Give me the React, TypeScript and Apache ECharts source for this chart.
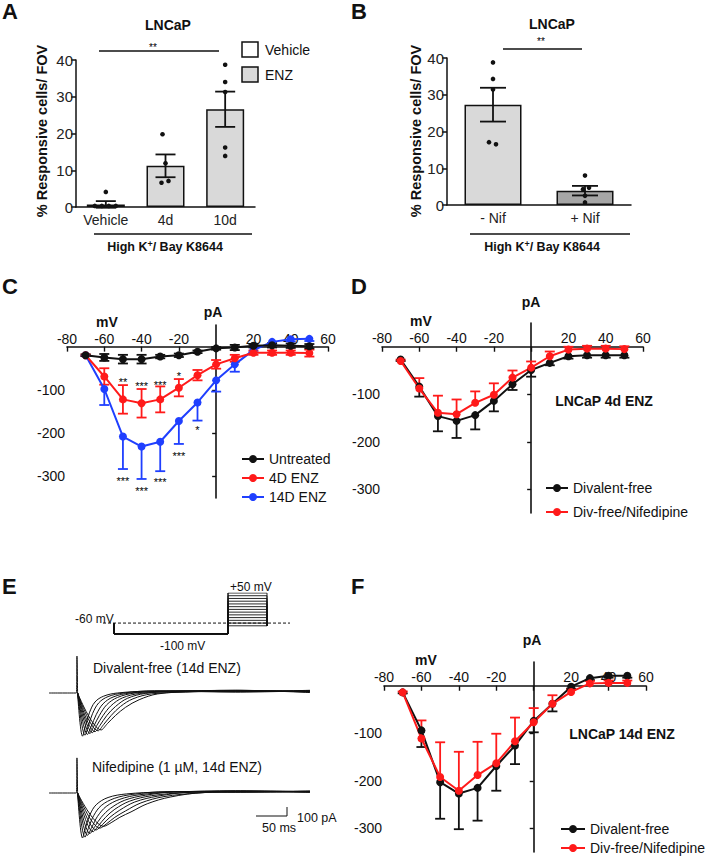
import React, { useEffect, useRef } from "react";
import * as echarts from "echarts";

const FONT = '"Liberation Sans", Arial, Helvetica, sans-serif';
const INK = "#111";
const RED = "#ff1a1a";
const BLUE = "#1f3fff";

// ---------- Panel A ----------
const catsA = ["Vehicle", "4d", "10d"];
const meanA = [0.7, 11.2, 26.6];
const semA = [0.9, 3.1, 4.8];
const dotsA = [
  [4.1, 0.3, 0.3, 0.3, 0.3],
  [19.8, 11.9, 6.6, 7.1],
  [38.7, 34.0, 31.3, 16.2, 13.9],
];
// ---------- Panel B ----------
const catsB = ["- Nif", "+ Nif"];
const meanB = [27.3, 3.9];
const semB = [4.6, 1.3];
const dotsB = [
  [38.8, 34.3, 31.4, 17.1, 16.5],
  [8.0, 4.3, 4.7, 2.5, 0.7],
];
const yTicksBar = [0, 10, 20, 30, 40];

// ---------- IV curves (mV / pA) ----------
const voltages = [-70, -60, -50, -40, -30, -20, -10, 0, 10, 20, 30, 40, 50];
const ivTickLabels = [-80, -60, -40, -20, 20, 40, 60];
const pATickLabels = [-300, -200, -100];

const untreatedC = [-20, -25, -29, -29, -23, -20, -12, -4, -2, 2, 3, 2, 1];
const untreatedErrC = [2, 8, 10, 10, 4, 4, 3, 3, 6, 4, 5, 5, 5];
const enz4C = [-20, -69, -122, -131, -122, -95, -66, -41, -27, -14, -14, -14, -15];
const enz4ErrC = [2, 19, 33, 33, 30, 20, 12, 10, 8, 5, 5, 5, 8];
const enz14C = [-20, -98, -208, -231, -220, -172, -129, -78, -41, -8, 11, 17, 18];
const enz14ErrC = [2, 37, 75, 75, 68, 53, 42, 26, 17, 5, 5, 5, 5];

const starXC = [-50, -40, -30, -20, -50, -40, -30, -20, -10];
const starYC = [-82, -90, -88, -68, -310, -333, -314, -252, -192];
const starTextC = ["**", "***", "***", "*", "***", "***", "***", "***", "*"];

const divD = [-27, -84, -146, -156, -144, -114, -79, -49, -34, -20, -18, -18, -18];
const divErrD = [3, 21, 32, 36, 30, 22, 12, 14, 5, 5, 5, 5, 5];
const nifD = [-30, -88, -139, -142, -118, -101, -65, -44, -20, -6, -4, -4, -5];
const nifErrD = [3, 22, 36, 31, 24, 24, 15, 13, 10, 6, 6, 6, 6];

const divF = [-14, -94, -203, -227, -215, -169, -126, -74, -38, -2, 16, 21, 21];
const divErrF = [2, 35, 77, 75, 69, 52, 39, 24, 16, 4, 4, 4, 4];
const nifF = [-14, -111, -192, -221, -188, -163, -117, -77, -38, -13, 5, 6, 6];
const nifErrF = [2, 38, 73, 82, 70, 62, 50, 30, 18, 5, 5, 5, 5];

// ---------- Panel E: current traces (ms, pA) ----------
const spikeTop = [[0, 0], [44, 0], [45, 410], [46, -20]];
const spikeBottom = [[0, 0], [44, 0], [45, 390], [46, -20]];
const divalentTraces = [
  [[46, 0], [54, -480], [59, -360], [65, -220], [74, -100], [88, -35], [110, 0], [160, 20], [300, 25], [420, 15]],
  [[46, 0], [58, -470], [63, -370], [70, -230], [80, -110], [95, -40], [120, 0], [170, 25], [300, 15], [420, 30]],
  [[46, 0], [62, -460], [68, -370], [76, -240], [87, -120], [103, -45], [130, 0], [180, 15], [300, 30], [420, 10]],
  [[46, 0], [66, -450], [72, -370], [81, -250], [93, -130], [110, -50], [138, 0], [190, 20], [300, 10], [420, 25]],
  [[46, 0], [70, -440], [77, -360], [87, -250], [100, -140], [118, -55], [146, -5], [200, 15], [300, 30], [420, 5]],
  [[46, 0], [74, -430], [82, -360], [93, -250], [107, -150], [126, -60], [155, -5], [210, 20], [300, 15], [420, 20]],
  [[46, 0], [79, -420], [88, -350], [100, -250], [115, -150], [135, -65], [165, -10], [220, 10], [300, 25], [420, 15]],
  [[46, 0], [84, -410], [94, -340], [107, -250], [123, -160], [145, -75], [175, -10], [230, 15], [300, 20], [420, 25]],
];
const nifedipineTraces = [
  [[46, 0], [54, -500], [59, -380], [66, -240], [76, -130], [95, -50], [125, -10], [180, 10], [300, 20], [420, 10]],
  [[46, 0], [58, -490], [64, -380], [72, -250], [84, -140], [105, -60], [135, -15], [190, 15], [300, 10], [420, 20]],
  [[46, 0], [62, -470], [69, -380], [78, -260], [92, -150], [114, -70], [145, -20], [200, 10], [300, 25], [420, 10]],
  [[46, 0], [66, -450], [74, -370], [84, -270], [99, -170], [122, -80], [155, -25], [210, 15], [300, 10], [420, 20]],
  [[46, 0], [71, -430], [80, -360], [91, -270], [106, -180], [130, -90], [165, -30], [220, 5], [300, 20], [420, 15]],
  [[46, 0], [76, -410], [86, -350], [98, -270], [114, -190], [138, -100], [175, -35], [230, 10], [300, 15], [420, 10]],
  [[46, 0], [82, -390], [93, -340], [106, -270], [123, -200], [148, -110], [185, -40], [240, 0], [300, 20], [420, 20]],
  [[46, 0], [88, -370], [100, -330], [114, -270], [132, -210], [158, -120], [195, -45], [250, 5], [300, 10], [420, 15]],
];
// Voltage protocol (ms, mV)
const protocolTimes = [0, 22, 250, 328, 374];
const holdMV = -60;
const prepulseMV = -100;
const stepMV = [-70, -60, -50, -40, -30, -20, -10, 0, 10, 20, 30, 40, 50];

// ---------- style-only constants ----------
const jitterA = [[0, -11, -4, 3, 10], [-3, 0, -4, 3], [0, 0, 0, 0, 0]];
const jitterB = [[0, 0, 0, -4, 3], [0, -2, 4, 0, 0]];

function errRender(capHalf: number, color: string, width: number) {
  return (params: any, api: any) => {
    const x = api.value(0), y = api.value(1), up = api.value(2), dn = api.value(3);
    const c = api.coord([x, y]);
    const t = api.coord([x, y + up]);
    const b = api.coord([x, y - dn]);
    const style = { stroke: color, lineWidth: width };
    const children: any[] = [
      { type: "line", shape: { x1: c[0], y1: t[1], x2: c[0], y2: b[1] }, style },
    ];
    if (up > 0) children.push({ type: "line", shape: { x1: c[0] - capHalf, y1: t[1], x2: c[0] + capHalf, y2: t[1] }, style });
    if (dn > 0) children.push({ type: "line", shape: { x1: c[0] - capHalf, y1: b[1], x2: c[0] + capHalf, y2: b[1] }, style });
    return { type: "group", children };
  };
}

function dotRender() {
  return (params: any, api: any) => {
    const c = api.coord([api.value(0), api.value(1)]);
    const dx = api.value(2);
    return { type: "circle", shape: { cx: c[0] + dx, cy: c[1], r: 2.3 }, style: { fill: INK } };
  };
}

function flattenDots(dots: number[][], jit: number[][]) {
  const out: number[][] = [];
  dots.forEach((arr, i) => arr.forEach((v, j) => out.push([i, v, jit[i][j] || 0])));
  return out;
}

const ivXAxis = (gi: number, labelMargin: number) => ({
  type: "value", gridIndex: gi, min: -80, max: 60, interval: 20, position: "top",
  axisLine: { onZero: true, lineStyle: { color: INK, width: 1.6 } },
  axisTick: { show: true, inside: true, length: 5, lineStyle: { color: INK, width: 1.4 } },
  axisLabel: { fontSize: 14, color: INK, margin: labelMargin, customValues: ivTickLabels, formatter: (v: number) => (v === 0 ? "" : String(v)) },
  splitLine: { show: false },
});
const ivYAxis = (gi: number) => ({
  type: "value", gridIndex: gi, min: -350, max: 50,
  axisLine: { show: true, onZero: true, lineStyle: { color: INK, width: 1.6 } },
  axisTick: { show: true, length: 4, customValues: pATickLabels, lineStyle: { color: INK, width: 1.4 } },
  axisLabel: { fontSize: 14, color: INK, margin: 2, customValues: pATickLabels },
  splitLine: { show: false },
});

function ivLine(name: string, gi: number, vals: number[], color: string, z = 3) {
  return {
    name, type: "line", xAxisIndex: gi, yAxisIndex: gi, z, clip: false,
    data: voltages.map((v, i) => [v, vals[i]]),
    symbol: "circle", symbolSize: 8,
    itemStyle: { color },
    lineStyle: { color, width: 2 },
  };
}
function ivErr(gi: number, vals: number[], up: number[] | null, dn: number[] | null, color: string, z = 2) {
  return {
    type: "custom", xAxisIndex: gi, yAxisIndex: gi, z,
    encode: { x: 0, y: 1 },
    renderItem: errRender(5, color, 1.8),
    data: voltages.map((v, i) => [v, vals[i], up ? up[i] : 0, dn ? dn[i] : 0]),
  };
}

function traceSeries(gi: number, data: number[][]) {
  return {
    type: "line", xAxisIndex: gi, yAxisIndex: gi, data, symbol: "none", smooth: 0.35,
    lineStyle: { color: INK, width: 1 }, silent: true,
  };
}

const txt = (x: number, y: number, text: string, o: any = {}, el: any = {}) => ({
  type: "text", x, y, ...el,
  style: { text, fontFamily: FONT, fontSize: 14, fill: INK, align: "left", verticalAlign: "middle", ...o },
});
const ln = (x1: number, y1: number, x2: number, y2: number, w = 1.5, extra: any = {}) => ({
  type: "line", shape: { x1, y1, x2, y2 }, style: { stroke: INK, lineWidth: w, ...extra },
});

const legendBase = {
  orient: "vertical", itemHeight: 10, selectedMode: false, padding: 0,
  textStyle: { fontSize: 14, color: INK, fontFamily: FONT },
};

export default function App() {
  const ref = useRef<HTMLDivElement>(null);
  useEffect(() => {
    if (!ref.current) return;
    const chart = echarts.init(ref.current, null, { renderer: "svg" });

    const barAxisY = (gi: number) => ({
      type: "value", gridIndex: gi, min: 0, max: 40, interval: 10,
      axisLine: { show: true, lineStyle: { color: INK, width: 1.5 } },
      axisTick: { show: true, length: 5, lineStyle: { color: INK, width: 1.5 } },
      axisLabel: { fontSize: 15, color: "#222", margin: 3, customValues: yTicksBar },
      splitLine: { show: false },
    });
    const barAxisX = (gi: number, data: string[]) => ({
      type: "category", gridIndex: gi, data,
      axisLine: { lineStyle: { color: INK, width: 1.5 } },
      axisTick: { alignWithLabel: true, length: 5, lineStyle: { color: INK, width: 1.5 } },
      axisLabel: { fontSize: 14, color: "#222", margin: 6 },
    });

    const traces: any[] = [];
    traces.push(traceSeries(5, spikeTop));
    traces.push(traceSeries(6, spikeBottom));
    divalentTraces.forEach((t) => traces.push(traceSeries(5, t)));
    nifedipineTraces.forEach((t) => traces.push(traceSeries(6, t)));
    const [t0, t1, t2, t3, t4] = protocolTimes;
    traces.push({
      type: "line", xAxisIndex: 7, yAxisIndex: 7, symbol: "none", silent: true, z: 4,
      data: [[t0, holdMV], [t4, holdMV]],
      lineStyle: { color: INK, width: 1, type: [3, 2] },
    });
    stepMV.forEach((v) =>
      traces.push({
        type: "line", xAxisIndex: 7, yAxisIndex: 7, symbol: "none", silent: true,
        data: [[t1, holdMV], [t1, prepulseMV], [t2, prepulseMV], [t2, v], [t3, v], [t3, stepMV[0]]],
        lineStyle: { color: INK, width: 0.9 },
      })
    );
    traces.push({
      type: "line", xAxisIndex: 7, yAxisIndex: 7, symbol: "none", silent: true,
      data: [[t2, stepMV[stepMV.length - 1]], [t2, prepulseMV]],
      lineStyle: { color: INK, width: 1 },
    });

    const stars = {
      type: "custom", xAxisIndex: 2, yAxisIndex: 2, z: 5,
      encode: { x: 0, y: 1 },
      data: starXC.map((x, i) => [x, starYC[i]]),
      renderItem: (params: any, api: any) => {
        const c = api.coord([api.value(0), api.value(1)]);
        return {
          type: "text", x: c[0], y: c[1],
          style: { text: starTextC[params.dataIndex], fontFamily: FONT, fontSize: 11, fill: "#000", align: "center", verticalAlign: "middle" },
        };
      },
    };

    const hiK = (cx: number) => ({
      type: "text", x: cx, y: 247,
      style: {
        text: "{n|High K}{s|+}{n|/ Bay K8644}",
        align: "center", verticalAlign: "middle", fontFamily: FONT,
        rich: {
          n: { fontFamily: FONT, fontSize: 12.5, fontWeight: "bold", fill: INK, lineHeight: 16 },
          s: { fontFamily: FONT, fontSize: 9, fontWeight: "bold", fill: INK, lineHeight: 16, verticalAlign: "top", padding: [0, 0, 7, 0] },
        },
      },
    });

    const yTitle = (x: number) =>
      txt(x, 131, "% Responsive cells/ FOV", { fontSize: 14.5, fontWeight: "bold", align: "center" }, { rotation: Math.PI / 2 });

    const option: any = {
      animation: false,
      backgroundColor: "#fff",
      textStyle: { fontFamily: FONT },
      grid: [
        { left: 76, top: 60, width: 179, height: 147 },
        { left: 447, top: 58, width: 184, height: 147 },
        { left: 67, top: 325, width: 261, height: 173 },
        { left: 382, top: 323, width: 261, height: 190 },
        { left: 384, top: 662, width: 262, height: 190 },
        { left: 49, top: 648, width: 261, height: 99 },
        { left: 49, top: 748, width: 261, height: 99 },
        { left: 103, top: 593, width: 187, height: 41 },
      ],
      xAxis: [
        barAxisX(0, catsA),
        barAxisX(1, catsB),
        ivXAxis(2, -21),
        ivXAxis(3, -22),
        ivXAxis(4, -22),
        { type: "value", gridIndex: 5, min: 0, max: 420, show: false },
        { type: "value", gridIndex: 6, min: 0, max: 420, show: false },
        { type: "value", gridIndex: 7, min: 0, max: 374, show: false },
      ],
      yAxis: [
        barAxisY(0),
        barAxisY(1),
        ivYAxis(2),
        ivYAxis(3),
        ivYAxis(4),
        { type: "value", gridIndex: 5, min: -600, max: 500, show: false },
        { type: "value", gridIndex: 6, min: -600, max: 500, show: false },
        { type: "value", gridIndex: 7, min: -100, max: 50, show: false },
      ],
      legend: [
        { ...legendBase, data: ["Untreated", "4D ENZ", "14D ENZ"], left: 241, top: 452, itemWidth: 22, itemGap: 5 },
        { ...legendBase, data: ["Divalent-free", "Div-free/Nifedipine"], left: 545, top: 481, itemWidth: 22, itemGap: 10 },
        { ...legendBase, data: ["Divalent-free", "Div-free/Nifedipine"], left: 560, top: 822, itemWidth: 24, itemGap: 5, height: 60 },
      ],
      series: [
        // A
        {
          type: "bar", xAxisIndex: 0, yAxisIndex: 0, barWidth: 38,
          data: meanA.map((v, i) => ({ value: v, itemStyle: { color: i === 0 ? "#ffffff" : "#d9d9d9" } })),
          itemStyle: { borderColor: INK, borderWidth: 1.5 },
        },
        { type: "custom", xAxisIndex: 0, yAxisIndex: 0, z: 4, encode: { x: 0, y: 1 }, renderItem: errRender(10, INK, 1.8), data: meanA.map((m, i) => [i, m, semA[i], semA[i]]) },
        { type: "custom", xAxisIndex: 0, yAxisIndex: 0, z: 5, encode: { x: 0, y: 1 }, renderItem: dotRender(), data: flattenDots(dotsA, jitterA) },
        // B
        {
          type: "bar", xAxisIndex: 1, yAxisIndex: 1, barWidth: 57,
          data: meanB.map((v, i) => ({ value: v, itemStyle: { color: i === 0 ? "#d9d9d9" : "#a6a6a6" } })),
          itemStyle: { borderColor: INK, borderWidth: 1.5 },
        },
        { type: "custom", xAxisIndex: 1, yAxisIndex: 1, z: 4, encode: { x: 0, y: 1 }, renderItem: errRender(13, INK, 1.8), data: meanB.map((m, i) => [i, m, semB[i], semB[i]]) },
        { type: "custom", xAxisIndex: 1, yAxisIndex: 1, z: 5, encode: { x: 0, y: 1 }, renderItem: dotRender(), data: flattenDots(dotsB, jitterB) },
        // C
        ivErr(2, enz14C, null, enz14ErrC, BLUE),
        ivLine("14D ENZ", 2, enz14C, BLUE, 3),
        ivErr(2, enz4C, enz4ErrC, enz4ErrC, RED),
        ivLine("4D ENZ", 2, enz4C, RED, 3),
        ivErr(2, untreatedC, untreatedErrC, untreatedErrC, INK),
        ivLine("Untreated", 2, untreatedC, INK, 3),
        stars,
        // D
        ivErr(3, divD, null, divErrD, INK),
        ivLine("Divalent-free", 3, divD, INK, 3),
        ivErr(3, nifD, nifErrD, null, RED),
        ivLine("Div-free/Nifedipine", 3, nifD, RED, 3),
        // F
        ivErr(4, divF, null, divErrF, INK),
        ivLine("Divalent-free", 4, divF, INK, 3),
        ivErr(4, nifF, nifErrF, null, RED),
        ivLine("Div-free/Nifedipine", 4, nifF, RED, 3),
        ...traces,
      ],
      graphic: [
        // panel letters
        txt(2, 11, "A", { fontSize: 22, fontWeight: "bold" }),
        txt(351, 11, "B", { fontSize: 22, fontWeight: "bold" }),
        txt(2, 286, "C", { fontSize: 22, fontWeight: "bold" }),
        txt(351, 286, "D", { fontSize: 22, fontWeight: "bold" }),
        txt(2, 586, "E", { fontSize: 22, fontWeight: "bold" }),
        txt(351, 586, "F", { fontSize: 22, fontWeight: "bold" }),
        // A
        txt(168, 25, "LNCaP", { fontWeight: "bold", align: "center" }),
        ln(99, 51, 219, 51),
        txt(153, 47, "**", { fontSize: 10, align: "center", fill: "#000" }),
        { type: "rect", shape: { x: 242, y: 42, width: 16, height: 15 }, style: { fill: "#fff", stroke: INK, lineWidth: 1.5 } },
        txt(265, 50, "Vehicle"),
        { type: "rect", shape: { x: 242, y: 67, width: 16, height: 15 }, style: { fill: "#d9d9d9", stroke: INK, lineWidth: 1.5 } },
        txt(265, 75, "ENZ"),
        yTitle(42),
        ln(94, 234, 252, 234),
        hiK(165),
        // B
        txt(552, 24, "LNCaP", { fontWeight: "bold", align: "center" }),
        ln(503, 49, 582, 49),
        txt(541, 41, "**", { fontSize: 10, align: "center", fill: "#000" }),
        yTitle(416),
        ln(470, 234, 630, 234),
        hiK(542),
        // C
        txt(213, 312, "pA", { fontWeight: "bold", align: "center" }),
        txt(107, 322, "mV", { fontWeight: "bold", align: "center" }),
        // D
        txt(531, 302, "pA", { fontWeight: "bold", align: "center" }),
        txt(421, 321, "mV", { fontWeight: "bold", align: "center" }),
        txt(604, 401, "LNCaP 4d ENZ", { fontWeight: "bold", align: "center" }),
        // F
        txt(532, 640, "pA", { fontWeight: "bold", align: "center" }),
        txt(426, 660, "mV", { fontWeight: "bold", align: "center" }),
        txt(622, 734, "LNCaP 14d ENZ", { fontWeight: "bold", align: "center" }),
        // E
        txt(75, 619, "-60 mV", { fontSize: 12 }),
        txt(230, 587, "+50 mV", { fontSize: 12 }),
        txt(160, 646, "-100 mV", { fontSize: 12 }),
        txt(93, 668, "Divalent-free (14d ENZ)"),
        txt(92, 767, "Nifedipine (1 µM, 14d ENZ)"),
        ln(256, 816, 287, 816, 1),
        ln(287, 807, 287, 816, 1),
        txt(262, 828, "50 ms", { fontSize: 12.5 }),
        txt(297, 818, "100 pA", { fontSize: 12.5 }),
      ],
    };
    chart.setOption(option);
    return () => chart.dispose();
  }, []);
  return <div ref={ref} style={{ position: "absolute", left: 0, top: 0, width: 708, height: 858, background: "#fff" }} />;
}
